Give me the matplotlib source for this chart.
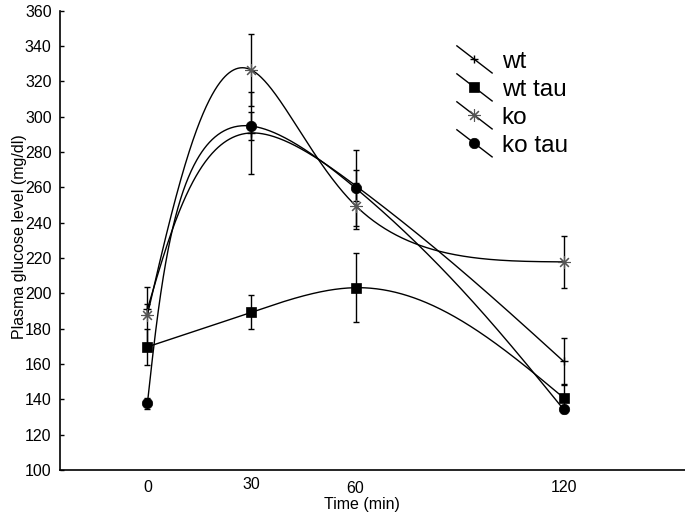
import numpy as np
import matplotlib
matplotlib.use("Agg")
import matplotlib.pyplot as plt
from matplotlib.lines import Line2D
from matplotlib.legend_handler import HandlerBase
from matplotlib.transforms import ScaledTranslation

plt.rcParams['font.family'] = ['Liberation Sans', 'DejaVu Sans']

# data
time = [0, 30, 60, 120]
wt = [191.0, 290.8, 261.0, 161.5]
wt_err = [3.0, 23.0, 9.0, 13.5]
wt_tau = [169.7, 189.3, 203.2, 140.9]
wt_tau_err = [10.0, 9.5, 19.7, 8.0]
ko = [187.8, 326.4, 249.7, 217.8]
ko_err = [16.0, 20.5, 13.0, 14.5]
ko_tau = [137.7, 294.7, 259.6, 134.3]
ko_tau_err = [3.0, 8.0, 21.5, 2.0]

xticks = [0, 30, 60, 120]
yticks = list(range(100, 361, 20))


def natural_spline(t, y, tt):
    n = len(t)
    h = np.diff(t)
    A = np.zeros((n, n))
    b = np.zeros(n)
    A[0, 0] = A[-1, -1] = 1
    for i in range(1, n - 1):
        A[i, i - 1] = h[i - 1]
        A[i, i] = 2 * (h[i - 1] + h[i])
        A[i, i + 1] = h[i]
        b[i] = 6 * ((y[i + 1] - y[i]) / h[i] - (y[i] - y[i - 1]) / h[i - 1])
    M = np.linalg.solve(A, b)
    k = np.clip(np.searchsorted(t, tt) - 1, 0, n - 2)
    hk = h[k]
    a = (t[k + 1] - tt) / hk
    c = (tt - t[k]) / hk
    return (a * y[k] + c * y[k + 1]
            + ((a ** 3 - a) * M[k] + (c ** 3 - c) * M[k + 1]) * hk ** 2 / 6)


def smooth(ax, xs, ys, n=400):
    # parametric spline in screen space, like the original plotting package
    pts = ax.transData.transform(np.column_stack([xs, ys]))
    d = np.sqrt((np.diff(pts, axis=0) ** 2).sum(1))
    t = np.concatenate([[0], np.cumsum(d)])
    tt = np.linspace(0, t[-1], n)
    cx = natural_spline(t, pts[:, 0], tt)
    cy = natural_spline(t, pts[:, 1], tt)
    return ax.transData.inverted().transform(np.column_stack([cx, cy])).T


class Diagonal(HandlerBase):
    def create_artists(self, legend, orig, xd, yd, w, h, fs, trans):
        x0, x1 = -xd, -xd + w
        ymid = -yd + h / 2
        dy = h * 0.7
        ln = Line2D([x0, x1], [ymid + dy, ymid - dy], color='black', lw=1.0)
        mk = Line2D([(x0 + x1) / 2], [ymid], marker=orig.get_marker(),
                    ms=orig.get_markersize(), mfc=orig.get_markerfacecolor(),
                    mec=orig.get_markeredgecolor(), mew=orig.get_markeredgewidth(),
                    linestyle='none')
        ln.set_transform(trans)
        mk.set_transform(trans)
        return [ln, mk]


fig = plt.figure(figsize=(6.85, 5.17), dpi=100)
ax = fig.add_axes([60 / 685, 47 / 517, 625 / 685, 459.3 / 517])
ax.set_xlim(-25.2, 155)
ax.set_ylim(100, 360)

series = [
    ('wt', wt, wt_err, dict(marker='+', ms=6, mfc='black', mec='black', mew=1.0)),
    ('wt tau', wt_tau, wt_tau_err, dict(marker='s', ms=7, mfc='black', mec='black', mew=0.5)),
    ('ko', ko, ko_err, dict(marker=(8, 2, 0), ms=9, mfc='#555555', mec='#555555', mew=0.8)),
    ('ko tau', ko_tau, ko_tau_err, dict(marker='o', ms=7.5, mfc='black', mec='black', mew=0.5)),
]

handles = []
for name, vals, err, mk in series:
    cx, cy = smooth(ax, time, vals)
    ax.plot(cx, cy, color='black', lw=1.0, zorder=2)
    ax.errorbar(time, vals, yerr=err, fmt='none', ecolor='black', elinewidth=1.0,
                capsize=2, capthick=1.0, zorder=3)
    h, = ax.plot(time, vals, linestyle='none', zorder=4, **mk)
    handles.append(h)

ax.spines['top'].set_visible(False)
ax.spines['right'].set_visible(False)
ax.spines['left'].set_linewidth(1.2)
ax.spines['bottom'].set_linewidth(1.2)

ax.set_yticks(yticks)
ax.set_xticks(xticks)
ax.tick_params(axis='y', direction='in', length=3, width=1, labelsize=11.5, pad=6)
ax.tick_params(axis='x', length=0, labelsize=11.5, pad=7)

# the original x tick labels sit at slightly uneven heights
shifts = [0, 3, -1, 0]
for lab, s in zip(ax.get_xticklabels(), shifts):
    lab.set_transform(lab.get_transform() + ScaledTranslation(0, s / 100, fig.dpi_scale_trans))

ax.set_xlabel('Time (min)', fontsize=11.5)
ax.xaxis.set_label_coords(0.483, -0.058)
ax.set_ylabel('Plasma glucose level (mg/dl)', fontsize=11.5)
ax.yaxis.set_label_coords(-0.053, 0.508)

ax.legend(handles, [s[0] for s in series], handler_map={Line2D: Diagonal()},
          loc='upper left', bbox_to_anchor=(0.635, 0.915), frameon=False,
          fontsize=17.5, handlelength=1.45, handleheight=0.85, handletextpad=0.4,
          labelspacing=0.2, borderaxespad=0, borderpad=0)

fig.savefig('out.png', dpi=100)
